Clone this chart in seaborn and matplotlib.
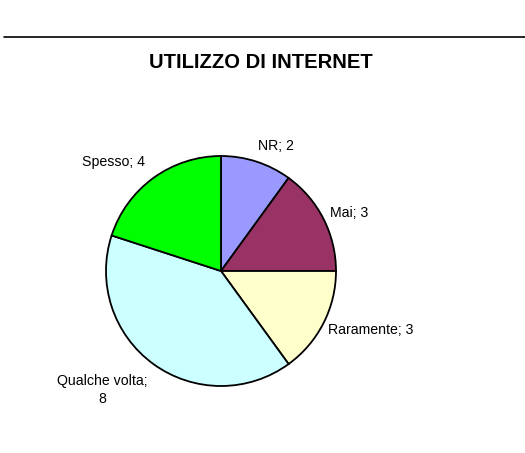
import matplotlib
matplotlib.use("Agg")
import matplotlib.pyplot as plt
import seaborn as sns

# dati del grafico
categorie = ["NR", "Mai", "Raramente", "Qualche volta", "Spesso"]
valori = [2, 3, 3, 8, 4]
colori = ["#9999FF", "#993366", "#FFFFCC", "#CCFFFF", "#00FF00"]
titolo = "UTILIZZO DI INTERNET"

sns.set_theme(style="white")
plt.rcParams["font.family"] = ["Liberation Sans", "DejaVu Sans"]

fig = plt.figure(figsize=(5.25, 4.53), dpi=100)
ax = fig.add_axes([0, 0, 1, 1])
ax.set_xlim(0, 525)
ax.set_ylim(0, 453)
ax.set_aspect("equal")
ax.axis("off")

# linea orizzontale in alto
ax.plot([4, 525], [453 - 37, 453 - 37], color="black", lw=1.2)

ax.text(261, 453 - 62, titolo, ha="center", va="center",
        fontsize=14.5, fontweight="bold", color="black")

centro = (221, 453 - 271)
wedges, _ = ax.pie(valori, colors=colori, startangle=90, counterclock=False,
                   center=centro, radius=115,
                   wedgeprops={"edgecolor": "black", "linewidth": 1.3})
ax.set_xlim(0, 525)
ax.set_ylim(0, 453)

# etichette stile Excel
pos_etichette = [(276, 146), (349, 213), (371, 330), (102, 390), (114, 162)]
for nome, v, (x, y) in zip(categorie, valori, pos_etichette):
    if nome == "Qualche volta":
        testo = f"{nome};\n{v}"
    else:
        testo = f"{nome}; {v}"
    ax.text(x, 453 - y, testo, ha="center", va="center", fontsize=10.2,
            color="black", linespacing=1.45)

fig.savefig("out.png", dpi=100)
